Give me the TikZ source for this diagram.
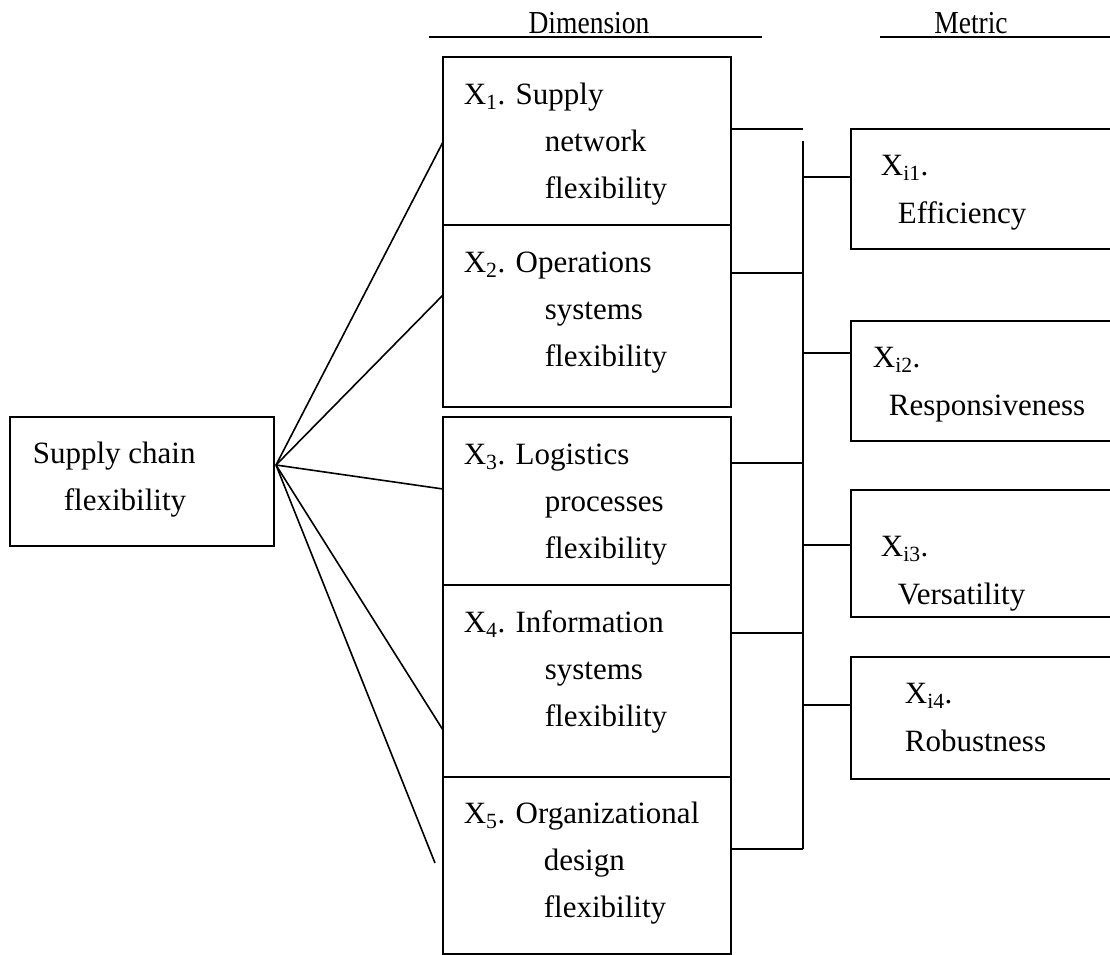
\documentclass[tikz,border=0pt]{standalone}
\usepackage{fontspec}
\setmainfont{Liberation Serif}
\begin{document}
\begin{tikzpicture}[x=1pt,y=-1pt,line width=1.7pt,
  box/.style={draw,rectangle,anchor=north west,inner sep=0pt,outer sep=0pt},
  txt/.style={anchor=base west,inner sep=0pt,font=\fontsize{31}{37}\selectfont},
  head/.style={anchor=base,inner sep=0pt,font=\fontsize{32}{38}\selectfont},
  link/.style={draw,line width=1.6pt}]
\useasboundingbox (0,0) rectangle (1110,954);
\clip (0,0) rectangle (1110,954);
% headers
\node[head] (hd) at (589,33) {\scalebox{0.86}[1]{Dimension}};
\node[head] (hm) at (971,33) {\scalebox{0.86}[1]{Metric}};
\draw (429,37) -- (762,37);
\draw (880,37) -- (1112,37);
% root box
\node[box,minimum width=264pt,minimum height=129pt] (root) at (10,417) {};
\node[txt] (r1) at (32,463) {Supply chain};
\node[txt] (r2) at (63,510) {flexibility};
% dimension boxes
\node[box,minimum width=288pt,minimum height=168pt] (d1) at (443,57) {};
\node[box,minimum width=288pt,minimum height=182pt] (d2) at (443,225) {};
\node[box,minimum width=288pt,minimum height=168pt] (d3) at (443,417) {};
\node[box,minimum width=288pt,minimum height=192pt] (d4) at (443,585) {};
\node[box,minimum width=288pt,minimum height=177pt] (d5) at (443,777) {};
\node[txt] (d1a) at (463,104) {X\textsubscript{1}. Supply};
\node[txt] (d1b) at (544,151) {network};
\node[txt] (d1c) at (544,198) {flexibility};
\node[txt] (d2a) at (463,272) {X\textsubscript{2}. Operations};
\node[txt] (d2b) at (544,319) {systems};
\node[txt] (d2c) at (544,366) {flexibility};
\node[txt] (d3a) at (463,464) {X\textsubscript{3}. Logistics};
\node[txt] (d3b) at (544,511) {processes};
\node[txt] (d3c) at (544,558) {flexibility};
\node[txt] (d4a) at (463,632) {X\textsubscript{4}. Information};
\node[txt] (d4b) at (544,679) {systems};
\node[txt] (d4c) at (544,726) {flexibility};
\node[txt] (d5a) at (463,823) {X\textsubscript{5}. Organizational};
\node[txt] (d5b) at (543,870) {design};
\node[txt] (d5c) at (543,917) {flexibility};
% metric boxes
\node[box,minimum width=300pt,minimum height=120pt] (m1) at (851,129) {};
\node[box,minimum width=300pt,minimum height=120pt] (m2) at (851,321) {};
\node[box,minimum width=300pt,minimum height=127pt] (m3) at (851,490) {};
\node[box,minimum width=300pt,minimum height=122pt] (m4) at (851,657) {};
\node[txt] (m1a) at (880,175) {X\textsubscript{i1}.};
\node[txt] (m1b) at (897,223) {Efficiency};
\node[txt] (m2a) at (872,367) {X\textsubscript{i2}.};
\node[txt] (m2b) at (888,415) {Responsiveness};
\node[txt] (m3a) at (880,556) {X\textsubscript{i3}.};
\node[txt] (m3b) at (897,604) {Versatility};
\node[txt] (m4a) at (904,703) {X\textsubscript{i4}.};
\node[txt] (m4b) at (904,751) {Robustness};
% fan from root
\coordinate (f) at (276,465);
\coordinate (e1) at (443,142);
\coordinate (e2) at (443,295);
\coordinate (e3) at (443,489);
\coordinate (e4) at (443,730);
\coordinate (e5) at (435,863);
\draw[link] (f) -- (e1);
\draw[link] (f) -- (e2);
\draw[link] (f) -- (e3);
\draw[link] (f) -- (e4);
\draw[link] (f) -- (e5);
% bus
\coordinate (b1) at (803,129);
\coordinate (btop) at (803,141);
\coordinate (b2) at (803,273);
\coordinate (b3) at (803,463);
\coordinate (b4) at (803,633);
\coordinate (b5) at (803,849);
\draw[link] (d1.east |- b1) -- (b1);
\draw[link] (d2.east |- b2) -- (b2);
\draw[link] (d3.east |- b3) -- (b3);
\draw[link] (d4.east |- b4) -- (b4);
\draw[link] (d5.east |- b5) -- (b5);
\draw[link] (btop) -- (b5);
\coordinate (c1) at (803,177);
\coordinate (c2) at (803,353);
\coordinate (c3) at (803,545);
\coordinate (c4) at (803,705);
\draw[link] (c1) -- (m1.west |- c1);
\draw[link] (c2) -- (m2.west |- c2);
\draw[link] (c3) -- (m3.west |- c3);
\draw[link] (c4) -- (m4.west |- c4);
\end{tikzpicture}
\end{document}
